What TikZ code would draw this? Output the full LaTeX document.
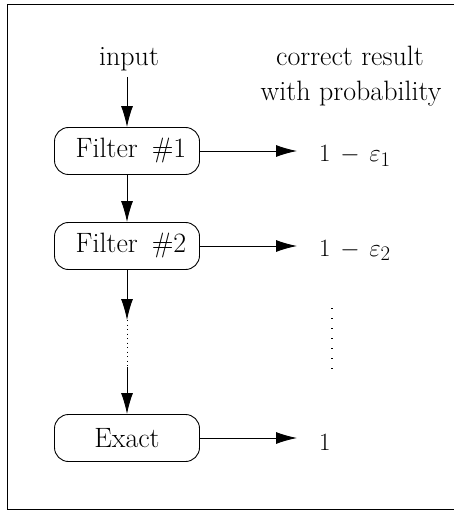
\documentclass[tikz,border=0pt]{standalone}
\usetikzlibrary{arrows.meta,calc}
\begin{document}
\begin{tikzpicture}[x=1pt,y=-1pt,
  every node/.style={font=\fontsize{28}{35}\selectfont},
  box/.style={draw,line width=0.9pt,rounded corners=14pt,minimum width=145pt,minimum height=47pt,inner sep=0pt},
  arr/.style={line width=0.9pt,-{Latex[length=21pt,width=12pt]}},
  lbl/.style={anchor=base west,inner sep=0pt},
  txt/.style={anchor=base,inner sep=0pt}]
\useasboundingbox (0,0) rectangle (454,510);
\draw[line width=1pt] (454,5) -- (7,5) -- (7,509) -- (454,509);
\node[txt] (in) at (129,66) {input};
\node[txt] (hd1) at (350,66) {correct result};
\node[txt] (hd2) at (351,101) {with probability};
\node[box] (f1) at (127,151) {\hspace{8pt}Filter\hspace{14pt}\#1};
\node[box] (f2) at (127,246) {\hspace{8pt}Filter\hspace{14pt}\#2};
\node[box] (ex) at (127,438) {Exact};
\node[lbl] (r1) at (319,162) {$1\mathbin{\,-\,}\varepsilon_1$};
\node[lbl] (r2) at (319,256) {$1\mathbin{\,-\,}\varepsilon_2$};
\node[lbl] (r3) at (319,450) {$1$};
\coordinate (i0) at (127,77);
\coordinate (d1) at (127,320);
\coordinate (d2) at (127,367);
\coordinate (v1) at (332,308);
\coordinate (v2) at (332,378);
\draw[arr] (i0) -- (f1.north);
\draw[arr] (f1.south) -- (f2.north);
\draw[arr] (f2.south) -- (d1);
\draw[line width=0.9pt,dash pattern=on 1pt off 3.5pt] (d1) -- (d2);
\draw[arr] (d2) -- (ex.north);
\draw[arr] (f1.east) -- (f1.east -| 297,0);
\draw[arr] (f2.east) -- (f2.east -| 297,0);
\draw[arr] (ex.east) -- (ex.east -| 297,0);
\draw[line width=1.1pt,dash pattern=on 1pt off 9pt] (v1) -- (v2);
\end{tikzpicture}
\end{document}
